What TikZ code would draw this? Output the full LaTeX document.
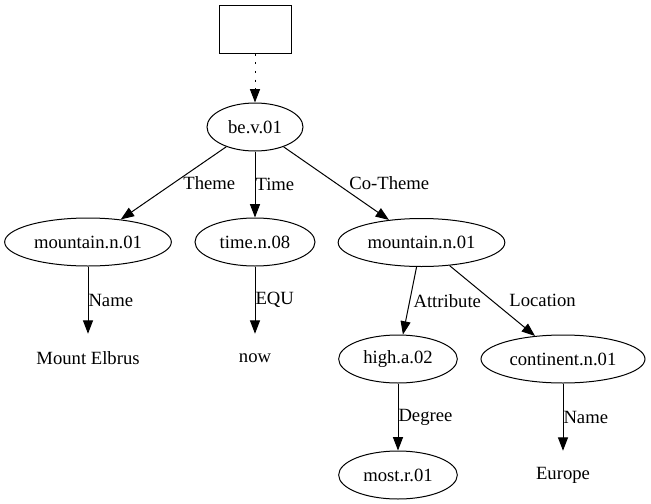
\documentclass[tikz,border=0pt]{standalone}
\usepackage{fontspec}
\setmainfont{Liberation Serif}
\newfontfamily\graphfont{Liberation Serif}
\usetikzlibrary{shapes.geometric,arrows.meta}
\begin{document}
\begin{tikzpicture}[x=0.75pt,y=-0.75pt,font=\graphfont\fontsize{14}{16}\selectfont]
                \useasboundingbox (0,0) rectangle (651,504);
                \node[draw,rectangle,line width=0.75pt,minimum width=54pt,minimum height=36pt] (root) at (255,29) {};

                \begin{scope}[every node/.style={ellipse,draw,line width=0.75pt,inner sep=0pt,minimum height=36pt}]
                    \node[minimum width=72pt] (be) at (255,127) {be.v.01};
                    \node[minimum width=125pt] (mtnA) at (88,242) {mountain.n.01};
                    \node[minimum width=90pt] (time) at (255,242) {time.n.08};
                    \node[minimum width=125pt] (mtnB) at (421.5,242.5) {mountain.n.01};
                    \node[minimum width=89pt] (high) at (398,359) {high.a.02};
                    \node[minimum width=123pt] (cont) at (563,359) {continent.n.01};
                    \node[minimum width=89pt] (most) at (398,475) {most.r.01};
                \end{scope}

                \begin{scope}[every node/.style={inner sep=0pt,minimum height=36pt}]
                    \node (elbrus) at (88,358) {Mount Elbrus};
                    \node (now) at (255,358) {now};
                    \node (europe) at (563,475) {Europe};
                \end{scope}

                \begin{scope}[every node/.style={inner sep=0pt,anchor=west},
                            every edge/.style={draw,line width=0.75pt,-{Triangle[length=10pt,width=7.5pt]}}]
                    \path (root) edge[dash pattern=on 1.5pt off 5pt] (be);
                    \path (be) edge node[pos=0.5,xshift=7pt] {Theme} (mtnA);
                    \path (be) edge node[pos=0.5] {Time} (time);
                    \path (be) edge node[pos=0.5,xshift=9.5pt] {Co-Theme} (mtnB);
                    \path (mtnA) edge node[pos=0.5] {Name} (elbrus);
                    \path (time) edge node[pos=0.5] {EQU} (now);
                    \path (mtnB) edge node[pos=0.5,xshift=2.5pt] {Attribute} (high);
                    \path (mtnB) edge node[pos=0.5,xshift=12.5pt] {Location} (cont);
                    \path (high) edge node[pos=0.5] {Degree} (most);
                    \path (cont) edge node[pos=0.5] {Name} (europe);
                \end{scope}
            \end{tikzpicture}
\end{document}
